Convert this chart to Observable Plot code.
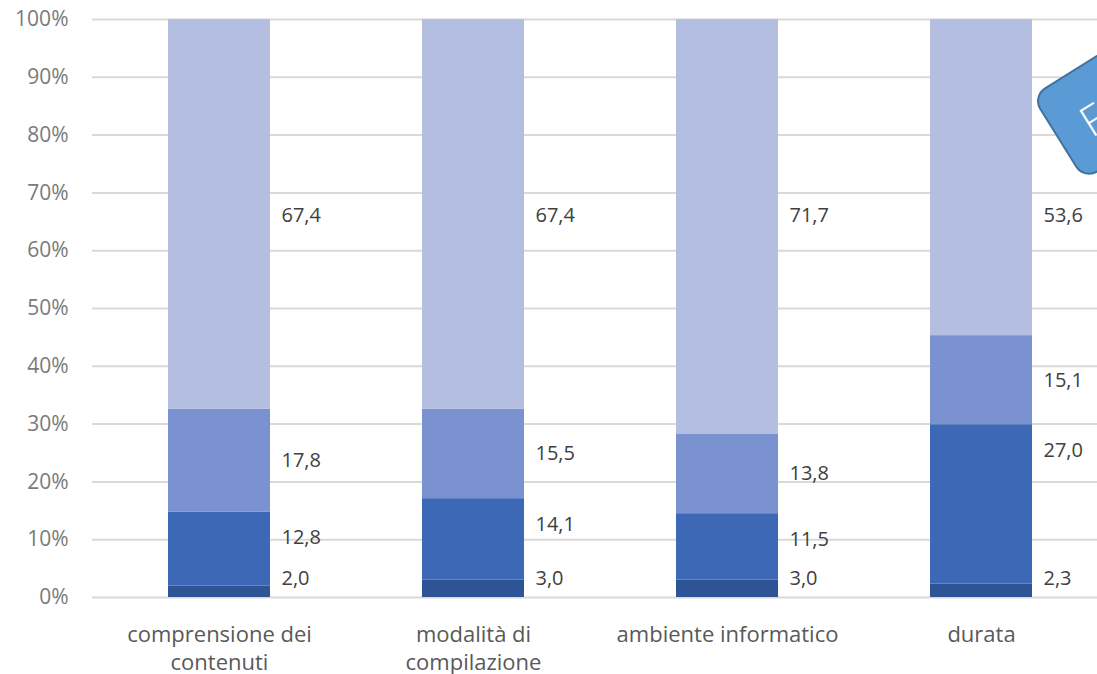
<!DOCTYPE html>
<html>
<head>
<meta charset="utf-8">
<script src="https://cdn.jsdelivr.net/npm/d3@7"></script>
<script src="https://cdn.jsdelivr.net/npm/@observablehq/plot@0.6"></script>
<style>
  html, body { margin: 0; padding: 0; background: #fff; }
  #wrap { position: relative; width: 1097px; height: 674px; overflow: hidden; background: #fff; }
  #chart { position: absolute; left: 0; top: 0; width: 1108px; }
  #chart svg { max-width: none !important; }
  #shape {
    position: absolute; left: 1031px; top: 96px; width: 230px; height: 100px;
    box-sizing: border-box; transform-origin: 0 0; transform: rotate(-32deg);
    background: #5B9BD5; border: 2px solid #41719C; border-radius: 16px;
    font-family: "Open Sans", Lato, sans-serif; color: #fff;
  }
  #shape span { position: absolute; left: 27px; top: 29px; font-size: 42px; line-height: 1; font-weight: 300; }
</style>
</head>
<body>
<div id="wrap"><div id="chart"></div><div id="shape"><span>F</span></div></div>
<script>
// Categories and tick labels
const categories = ["comprensione dei contenuti", "modalità di compilazione", "ambiente informatico", "durata"];
const tickLabels = ["comprensione dei\ncontenuti", "modalità di\ncompilazione", "ambiente informatico", "durata"];
// Series (bottom to top)
const series = ["serie 1", "serie 2", "serie 3", "serie 4"];
const serie1 = [2.0, 3.0, 3.0, 2.3];
const serie2 = [12.8, 14.1, 11.5, 27.0];
const serie3 = [17.8, 15.5, 13.8, 15.1];
const serie4 = [67.4, 67.4, 71.7, 53.6];
const colors = ["#2f5496", "#3d68b6", "#7a92cf", "#b4bee0"];
const yTicks = [0, 10, 20, 30, 40, 50, 60, 70, 80, 90, 100];

const allSeries = [serie1, serie2, serie3, serie4];
const rows = [];
const labels = [];
categories.forEach((c, i) => {
  const vals = allSeries.map(s => s[i]);
  const total = d3.sum(vals);
  let cum = 0;
  vals.forEach((v, k) => {
    rows.push({category: c, series: series[k], value: v});
    const lo = cum / total, hi = (cum + v) / total, mid = (lo + hi) / 2;
    let ly;
    if (k === 0) ly = Math.max(mid, 0.033);           // small base segment
    else if (k === 1) ly = hi - 0.045;                  // near inside end
    else if (k === 2) ly = mid;                         // centred
    else ly = 0.66;                                     // top labels aligned
    labels.push({category: c, ly, label: v.toFixed(1).replace(".", ",")});
    cum += v;
  });
});

const fmtCat = d => tickLabels[categories.indexOf(d)];
const font = "'Open Sans', Lato, sans-serif";

const chart = Plot.plot({
  width: 1108,
  height: 674,
  marginTop: 19,
  marginBottom: 77,
  marginLeft: 92,
  marginRight: 0,
  style: {fontFamily: font, fontSize: "20px", background: "#fff", color: "#595959"},
  x: {domain: categories, paddingInner: 0.6, paddingOuter: 0.3, label: null},
  y: {domain: [0, 1], label: null},
  color: {domain: series, range: colors},
  marks: [
    Plot.gridY(yTicks.map(t => t / 100), {stroke: "#d9d9d9", strokeOpacity: 1, strokeWidth: 2}),
    Plot.axisY(yTicks.map(t => t / 100), {tickSize: 0, tickPadding: 24, tickFormat: d => Math.round(d * 100) + "%", fill: "#7a7a7a", fontSize: 21, label: null}),
    Plot.axisX({tickSize: 0, tickPadding: 25, tickFormat: fmtCat, lineHeight: 1.27, fill: "#595959", fontSize: 22, label: null}),
    Plot.barY(rows, Plot.stackY({offset: "normalize", order: series, x: "category", y: "value", fill: "series"})),
    Plot.text(labels, {x: "category", y: "ly", text: "label", dx: 62, textAnchor: "start", fill: "#404040", fontSize: 20})
  ]
});
document.getElementById("chart").appendChild(chart);
</script>
</body>
</html>
